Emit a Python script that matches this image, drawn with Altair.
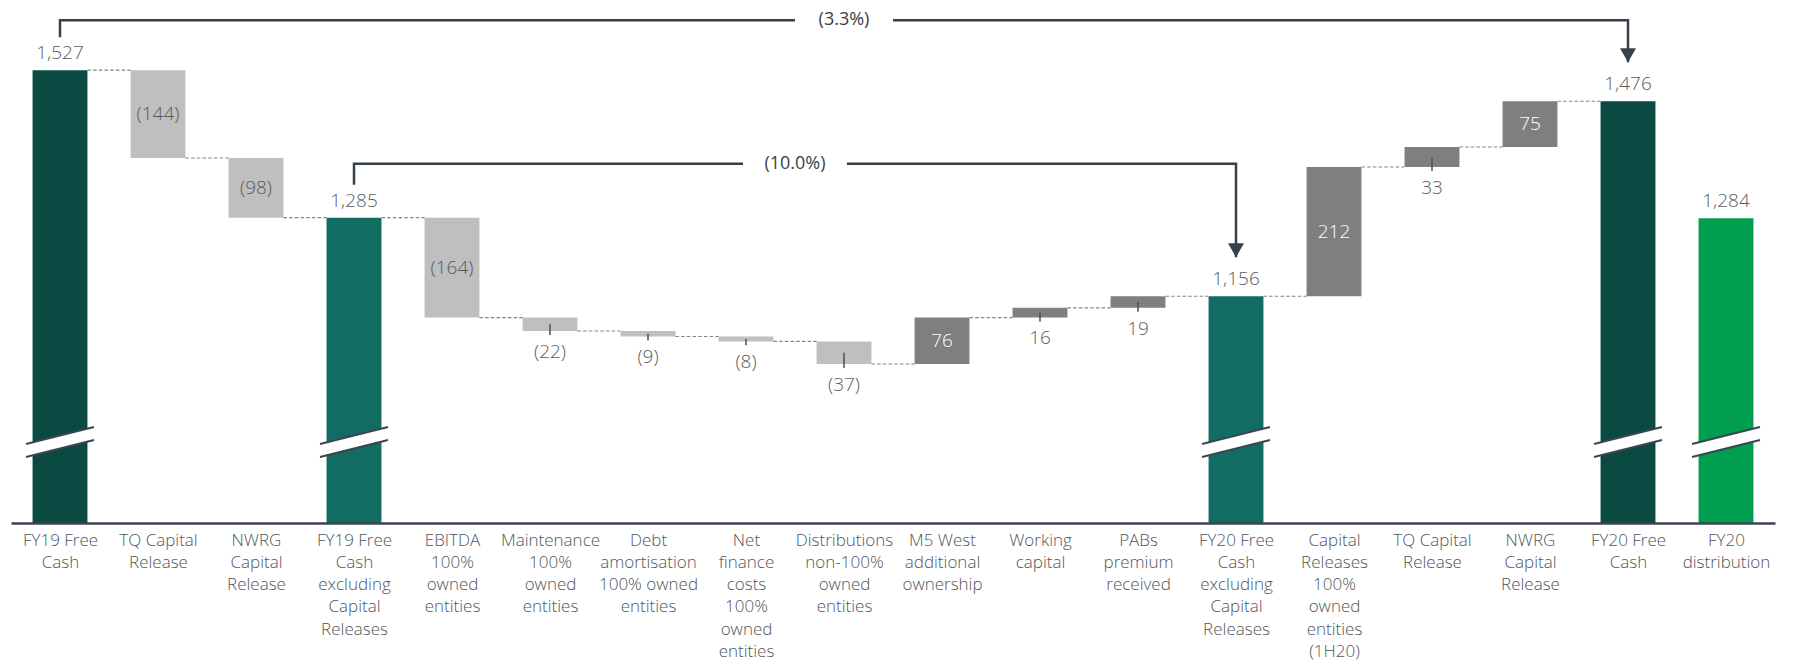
import altair as alt
import pandas as pd

# ---------------- data ----------------
categories = [
    "FY19 Free\nCash",
    "TQ Capital\nRelease",
    "NWRG\nCapital\nRelease",
    "FY19 Free\nCash\nexcluding\nCapital\nReleases",
    "EBITDA\n100%\nowned\nentities",
    "Maintenance\n100%\nowned\nentities",
    "Debt\namortisation\n100% owned\nentities",
    "Net\nfinance\ncosts\n100%\nowned\nentities",
    "Distributions\nnon-100%\nowned\nentities",
    "M5 West\nadditional\nownership",
    "Working\ncapital",
    "PABs\npremium\nreceived",
    "FY20 Free\nCash\nexcluding\nCapital\nReleases",
    "Capital\nReleases\n100%\nowned\nentities\n(1H20)",
    "TQ Capital\nRelease",
    "NWRG\nCapital\nRelease",
    "FY20 Free\nCash",
    "FY20\ndistribution",
]
values = [1527, -144, -98, 1285, -164, -22, -9, -8, -37, 76, 16, 19,
          1156, 212, 33, 75, 1476, 1284]
kinds = ["total", "step", "step", "subtotal", "step", "step", "step", "step",
         "step", "step", "step", "step", "subtotal", "step", "step", "step",
         "total", "distribution"]

bracket_from = [0, 3]
bracket_to = [16, 12]
bracket_labels = ["(3.3%)", "(10.0%)"]

# ---------------- styling constants ----------------
FONT = "Open Sans"
HW = 0.28            # half bar width in category units
Y_MIN, Y_MAX = 784, 1629
BREAK_AT = 917
GREY_TXT = "#585d63"
DARK = "#36414b"

n = len(values)

rows = []
run = 0
for i, (v, k) in enumerate(zip(values, kinds)):
    if k == "step":
        lo, hi = run, run + v
        run += v
        kind = "decrease" if v < 0 else "increase"
        label = f"({abs(v):,})" if v < 0 else f"{v:,}"
    else:
        lo, hi = 0, v
        run = v
        kind = k
        label = f"{v:,}"
    rows.append(dict(i=i, x0=i - HW, x1=i + HW, lo=lo, hi=hi, end=run,
                     kind=kind, label=label, v=v,
                     mid=(lo + hi) / 2, bottom=min(lo, hi)))
df = pd.DataFrame(rows)

# connectors
conn = []
for i in range(n - 1):
    if df.loc[i + 1, "kind"] == "distribution":
        continue
    conn.append(dict(x=i + HW, x2=i + 1 - HW, y=df.loc[i, "end"]))
conn = pd.DataFrame(conn)

totals = df[df["kind"].isin(["total", "subtotal", "distribution"])].copy()
totals["ty"] = totals["hi"] + 28
totals["by"] = BREAK_AT

steps = df[df["kind"].isin(["decrease", "increase"])].copy()
inside = steps[steps["v"].abs() >= 50].copy()
inside_dec = inside[inside["kind"] == "decrease"]
inside_inc = inside[inside["kind"] == "increase"]
outside = steps[steps["v"].abs() < 50].copy()
outside["tick_end"] = outside["bottom"] - 6.5
outside["ly"] = outside["bottom"] - 34

# brackets
seg_rows = []
lab_rows = []
for b, (a, z, lab) in enumerate(zip(bracket_from, bracket_to, bracket_labels)):
    start_v = df.loc[a, "end"]
    end_v = df.loc[z, "end"]
    level = min(start_v + 88.5, Y_MAX - 20)
    midx = (a + z) / 2
    gap = 0.5 if len(lab) <= 6 else 0.53
    pts1 = [(a, start_v + 54), (a, level), (midx - gap, level)]
    pts2 = [(midx + gap, level), (z, level), (z, end_v + 64)]
    for s, pts in enumerate([pts1, pts2]):
        for o, (px, py) in enumerate(pts):
            seg_rows.append(dict(seg=f"{b}-{s}", o=o, x=px, y=py))
    lab_rows.append(dict(x=midx, y=level, label=lab, tipx=z, tipy=end_v + 64))
segs = pd.DataFrame(seg_rows)
blabs = pd.DataFrame(lab_rows)

# ---------------- scales / encodings ----------------
label_js = "[" + ",".join("'" + c.replace("\n", "|") + "'" for c in categories) + "]"
XS = alt.Scale(domain=[-0.5, n - 0.5], nice=False, zero=False)
YS = alt.Scale(domain=[Y_MIN, Y_MAX], nice=False, zero=False)
XAX = alt.Axis(values=list(range(n)), labelExpr=f"split({label_js}[datum.value], '|')",
               title=None, ticks=False, grid=False, domainColor="#3a4550",
               domainWidth=2.5, labelFont=FONT, labelFontSize=17, labelFontWeight=300,
               labelColor="#50565c", labelLineHeight=22.3, labelPadding=9,
               labelOverlap=False, labelFlush=False, labelBaseline="top",
               labelAlign="center", zindex=1)


def X(f):
    return alt.X(f, type="quantitative", scale=XS, axis=XAX)


def Y(f):
    return alt.Y(f, type="quantitative", scale=YS, axis=None)


color = alt.Color("kind:N", legend=None, scale=alt.Scale(
    domain=["total", "subtotal", "decrease", "increase", "distribution"],
    range=["#0b4a42", "#116c62", "#bfbfbf", "#7f7f7f", "#009e4f"]))

bars = alt.Chart(df).mark_rect(clip=True).encode(
    x=X("x0"), x2="x1", y=Y("lo"), y2="hi", color=color)

conn_l = alt.Chart(conn).mark_rule(color="#80858a", strokeWidth=1.1,
                                   strokeDash=[3.5, 2.2]).encode(
    x=X("x"), x2="x2", y=Y("y"))

BREAK_FILL = "M-1,0.059 L1,-0.441 L1,-0.059 L-1,0.441 Z"
BREAK_LINES = "M-1,0.059 L1,-0.441 M-1,0.441 L1,-0.059"
brk_fill = alt.Chart(totals).mark_point(shape=BREAK_FILL, size=4624, filled=True,
                                        color="white", opacity=1, strokeWidth=0).encode(
    x=X("i"), y=Y("by"))
brk_line = alt.Chart(totals).mark_point(shape=BREAK_LINES, size=4624, filled=False,
                                        color="#3b4550", opacity=1, strokeWidth=2).encode(
    x=X("i"), y=Y("by"))

tot_txt = alt.Chart(totals).mark_text(font=FONT, fontSize=19, fontWeight=300,
                                      color=GREY_TXT, baseline="middle").encode(
    x=X("i"), y=Y("ty"), text="label:N")

in_dec_txt = alt.Chart(inside_dec).mark_text(font=FONT, fontSize=19, fontWeight=300,
                                             baseline="middle", color="#555a60").encode(
    x=X("i"), y=Y("mid"), text="label:N")
in_inc_txt = alt.Chart(inside_inc).mark_text(font=FONT, fontSize=19, fontWeight=300,
                                             baseline="middle", color="#ffffff").encode(
    x=X("i"), y=Y("mid"), text="label:N")

ticks = alt.Chart(outside).mark_rule(color="#4a5057", strokeWidth=1.5).encode(
    x=X("i"), y=Y("mid"), y2="tick_end")
out_txt = alt.Chart(outside).mark_text(font=FONT, fontSize=19, fontWeight=300,
                                       color=GREY_TXT, baseline="middle").encode(
    x=X("i"), y=Y("ly"), text="label:N")

br_lines = alt.Chart(segs).mark_line(color=DARK, strokeWidth=2.5, strokeCap="butt",
                                     strokeJoin="miter").encode(
    x=X("x"), y=Y("y"), detail="seg:N", order="o:Q")
ARROW = "M-1,-1.75 L1,-1.75 L0,0 Z"
br_arrow = alt.Chart(blabs).mark_point(shape=ARROW, size=256, filled=True, color=DARK,
                                       opacity=1, strokeWidth=0).encode(
    x=X("tipx"), y=Y("tipy"))
br_txt = alt.Chart(blabs).mark_text(font=FONT, fontSize=18, fontWeight=400, color=DARK,
                                    baseline="middle").encode(
    x=X("x"), y=Y("y"), text="label:N")

chart = alt.layer(bars, conn_l, brk_fill, brk_line, tot_txt, in_dec_txt, in_inc_txt,
                  ticks, out_txt, br_lines, br_arrow, br_txt).properties(
    width=1764, height=515,
    autosize=alt.AutoSizeParams(type="none"),
    padding={"left": 3, "top": 0, "right": 4, "bottom": 141},
    background="white",
).configure_view(stroke=None)

chart.save("out.html", embed_options={"renderer": "svg", "actions": False})
